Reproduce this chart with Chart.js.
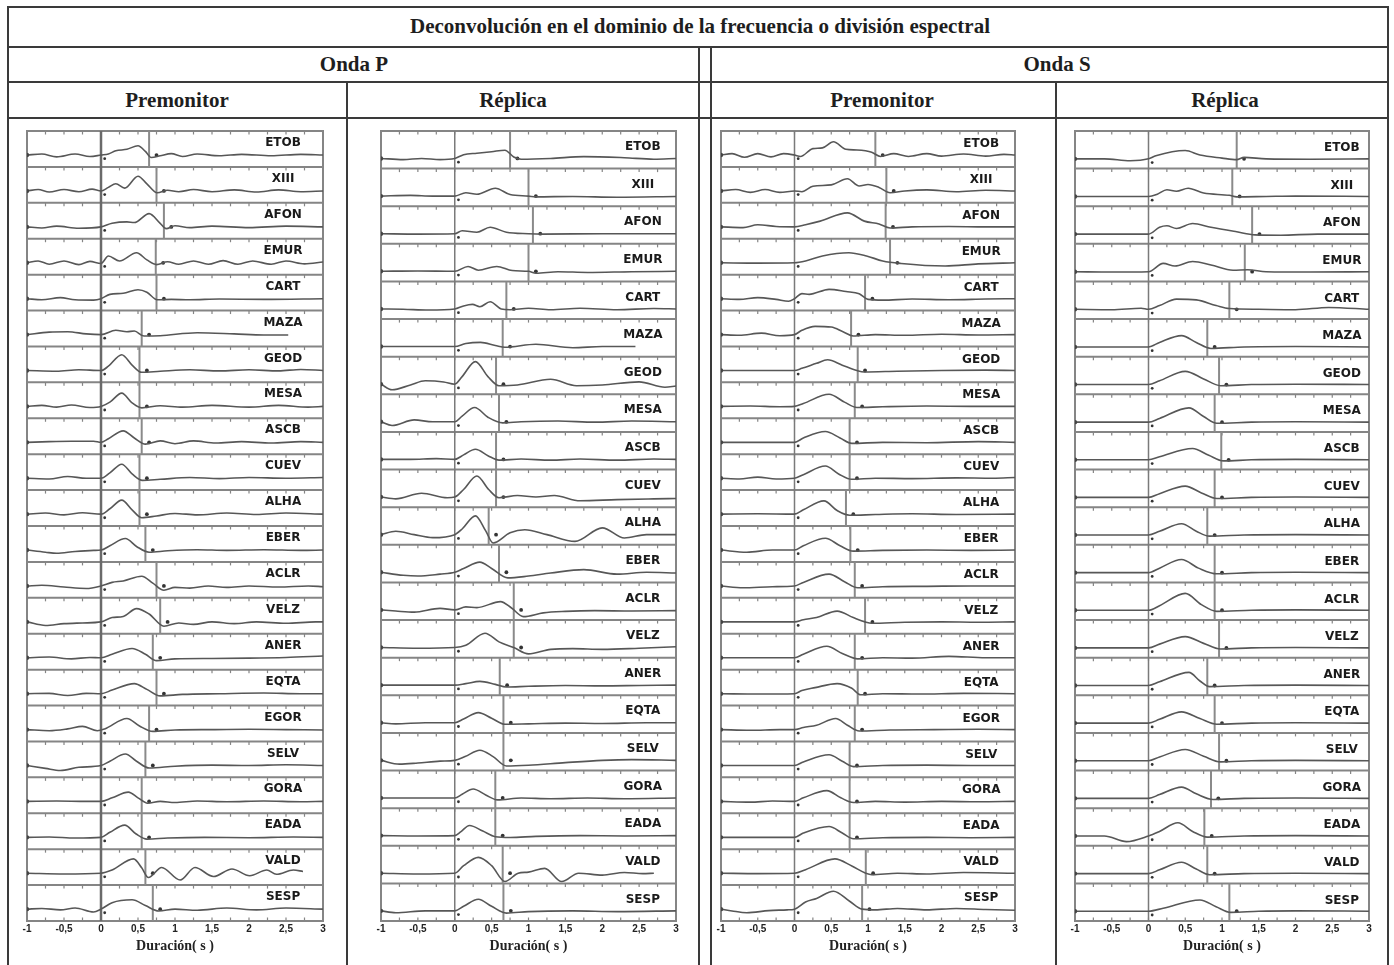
<!DOCTYPE html>
<html>
<head>
<meta charset="utf-8">
<script src="https://cdn.jsdelivr.net/npm/chart.js@4"></script>
<style>
    body { margin: 0; background: #fff; width: 1394px; height: 965px; overflow: hidden; position: relative; }
    .h, .v { position: absolute; background: #3a3a3a; }
    .h { height: 2px; }
    .v { width: 2px; }
    .t { position: absolute; transform: translate(-50%, -50%); font: bold 21px "Liberation Serif", serif; color: #1e1e1e; white-space: nowrap; }
    canvas { position: absolute; top: 119px; }
</style>
</head>
<body>
<div class="h" style="left:8px;top:6px;width:1381px"></div>
<div class="h" style="left:8px;top:46px;width:1381px"></div>
<div class="h" style="left:8px;top:81px;width:1381px"></div>
<div class="h" style="left:8px;top:117px;width:1381px"></div>
<div class="v" style="left:7px;top:6px;height:960px"></div>
<div class="v" style="left:1387px;top:6px;height:960px"></div>
<div class="v" style="left:698px;top:46px;height:920px"></div>
<div class="v" style="left:710px;top:46px;height:920px"></div>
<div class="v" style="left:346px;top:81px;height:885px"></div>
<div class="v" style="left:1055px;top:81px;height:885px"></div>

<div class="t" style="left:700px;top:26px">Deconvolución en el dominio de la frecuencia o división espectral</div>
<div class="t" style="left:354px;top:64px">Onda P</div>
<div class="t" style="left:1057px;top:64px">Onda S</div>
<div class="t" style="left:177px;top:100px">Premonitor</div>
<div class="t" style="left:513px;top:100px">Réplica</div>
<div class="t" style="left:882px;top:100px">Premonitor</div>
<div class="t" style="left:1225px;top:100px">Réplica</div>

<canvas id="pPrem" width="336" height="846" style="left:10px"></canvas>
<canvas id="pRep" width="349" height="846" style="left:349px"></canvas>
<canvas id="sPrem" width="343" height="846" style="left:712px"></canvas>
<canvas id="sRep" width="330" height="846" style="left:1057px"></canvas>

<script>
// Tick labels of the time axis (s)
const xTickLabels = ["-1", "-0,5", "0", "0,5", "1", "1,5", "2", "2,5", "3"];

// Stations, top to bottom
const stationsPrem = ["ETOB", "XIII", "AFON", "EMUR", "CART", "MAZA", "GEOD", "MESA", "ASCB", "CUEV", "ALHA",
    "EBER", "ACLR", "VELZ", "ANER", "EQTA", "EGOR", "SELV", "GORA", "EADA", "VALD", "SESP"];
const stationsRep = ["ETOB", "XIII", "AFON", "EMUR", "CART", "MAZA", "GEOD", "MESA", "ASCB", "CUEV", "ALHA",
    "EBER", "ACLR", "VELZ", "ANER", "EQTA", "SELV", "GORA", "EADA", "VALD", "SESP"];

// Pulse end times (s)
const pPremEnd = [0.65, 0.75, 0.85, 0.74, 0.75, 0.55, 0.52, 0.52, 0.55, 0.52, 0.52, 0.6, 0.75, 0.8, 0.7, 0.75, 0.65, 0.6, 0.55, 0.55, 0.6, 0.7];
const pRepEnd = [0.75, 1.0, 1.06, 1.0, 0.7, 0.65, 0.56, 0.6, 0.56, 0.56, 0.46, 0.6, 0.8, 0.8, 0.61, 0.66, 0.66, 0.55, 0.55, 0.65, 0.66];
const sPremEnd = [1.1, 1.25, 1.24, 1.3, 0.96, 0.77, 0.86, 0.82, 0.75, 0.75, 0.7, 0.76, 0.82, 0.96, 0.82, 0.86, 0.82, 0.75, 0.75, 0.75, 0.97, 0.92];
const sRepEnd = [1.2, 1.14, 1.41, 1.31, 1.1, 0.8, 0.96, 0.9, 0.99, 0.9, 0.8, 0.9, 0.9, 0.96, 0.8, 0.9, 0.96, 0.85, 0.76, 0.8, 1.1];

// Traces: [time (s), amplitude (fraction of row height)]
const pPremWaves = [
    [[-1,0],[-0.8,0.03],[-0.6,-0.05],[-0.35,0.03],[-0.15,-0.04],[0,0],[0.1,0.03],[0.2,0.12],[0.35,0.16],[0.5,0.26],[0.6,0.1],[0.68,-0.07],[0.8,-0.02],[0.95,0.04],[1.1,-0.04],[1.3,0.03],[1.6,-0.02],[1.9,0.02],[2.3,-0.02],[2.7,0.02],[3,0]],
    [[-1,0],[-0.85,0.04],[-0.7,-0.03],[-0.5,0.04],[-0.3,-0.02],[-0.12,0.05],[0,0],[0.1,0.1],[0.2,0.2],[0.32,0.08],[0.5,0.41],[0.62,0.2],[0.76,-0.05],[0.9,0.02],[1.05,-0.02],[1.25,0.04],[1.5,-0.02],[1.8,0.03],[2.1,-0.03],[2.4,0.03],[2.7,-0.02],[3,0]],
    [[-1,0],[-0.8,-0.03],[-0.6,0.02],[-0.3,-0.04],[0,0],[0.15,0.1],[0.35,0.14],[0.45,0.12],[0.65,0.37],[0.8,0.1],[0.88,-0.05],[1,0.03],[1.2,-0.02],[1.5,0.02],[2,-0.02],[2.5,0.02],[3,0]],
    [[-1,0],[-0.85,0.05],[-0.7,-0.04],[-0.5,0.05],[-0.3,-0.05],[-0.15,0.04],[0,-0.02],[0.1,0.19],[0.25,0.05],[0.48,0.28],[0.62,0.08],[0.75,-0.05],[0.9,0.03],[1.05,-0.04],[1.25,0.05],[1.45,-0.04],[1.65,0.06],[1.85,-0.04],[2.05,0.05],[2.3,-0.04],[2.5,0.05],[2.75,-0.03],[3,0.02]],
    [[-1,0],[-0.8,-0.03],[-0.55,0.03],[-0.35,-0.03],[-0.1,-0.04],[0,0],[0.12,0.12],[0.3,0.15],[0.5,0.25],[0.62,0.18],[0.76,-0.03],[0.95,-0.02],[1.2,-0.03],[1.6,-0.01],[2.2,-0.02],[3,0]],
    [[-1,0],[-0.7,0.07],[-0.45,0.08],[-0.2,0.02],[0,0],[0.2,0.12],[0.35,0.08],[0.45,0.1],[0.58,-0.04],[0.8,-0.03],[1.3,0.05],[1.8,0.02],[2.2,-0.01],[2.53,-0.01]],
    [[-1,0],[-0.6,-0.02],[-0.3,0.02],[0,0],[0.1,0.12],[0.28,0.44],[0.42,0.15],[0.55,-0.05],[0.8,-0.02],[1.2,0.02],[1.6,-0.01],[2,0.02],[2.4,-0.01],[2.7,0.03],[3,0]],
    [[-1,0],[-0.8,0.03],[-0.6,-0.02],[-0.4,0.04],[-0.15,-0.03],[0,0],[0.12,0.12],[0.28,0.37],[0.42,0.1],[0.55,-0.04],[0.8,0.02],[1.1,-0.02],[1.5,0.03],[2,-0.02],[2.4,0.03],[2.8,-0.02],[3,0]],
    [[-1,0],[-0.7,0.02],[-0.4,0.03],[-0.1,0.03],[0,0],[0.1,0.1],[0.3,0.32],[0.45,0.12],[0.6,-0.05],[0.8,0.04],[1,-0.04],[1.25,0.04],[1.55,-0.02],[1.9,0.02],[2.3,-0.02],[2.7,0.02],[3,0]],
    [[-1,0],[-0.7,-0.02],[-0.45,0.05],[-0.2,0],[0,0],[0.12,0.15],[0.28,0.39],[0.42,0.12],[0.56,-0.06],[0.8,-0.03],[1.2,0.02],[1.6,-0.01],[2,0.02],[2.5,0],[3,0.02]],
    [[-1,0],[-0.75,0.03],[-0.5,-0.02],[-0.25,0.04],[0,0],[0.12,0.15],[0.28,0.39],[0.42,0.12],[0.55,-0.1],[0.75,-0.05],[1,0.02],[1.3,-0.02],[1.7,0.03],[2.1,-0.01],[2.5,0.03],[3,0]],
    [[-1,0],[-0.75,-0.06],[-0.6,-0.09],[-0.35,-0.04],[-0.1,-0.01],[0,0],[0.12,0.12],[0.33,0.32],[0.48,0.1],[0.65,-0.06],[0.9,-0.02],[1.3,0.01],[1.7,-0.01],[2.2,0.01],[2.7,-0.01],[3,0]],
    [[-1,0],[-0.8,0.02],[-0.5,-0.03],[-0.2,-0.07],[0,0],[0.15,0.1],[0.3,0.14],[0.55,0.27],[0.7,0.08],[0.85,-0.12],[1,-0.04],[1.2,-0.06],[1.45,0],[1.7,-0.04],[2,0],[2.4,-0.03],[2.8,0],[3,-0.02]],
    [[-1,0],[-0.75,-0.1],[-0.5,-0.05],[-0.25,-0.03],[0,0],[0.15,0.12],[0.3,0.15],[0.48,0.37],[0.65,0.22],[0.85,-0.12],[1.05,-0.03],[1.25,-0.07],[1.5,0],[1.8,-0.05],[2.1,0],[2.5,-0.04],[2.9,0],[3,0]],
    [[-1,0],[-0.7,0.02],[-0.4,-0.03],[-0.15,0.01],[0,0],[0.15,0.1],[0.42,0.26],[0.6,0.1],[0.75,-0.08],[1,-0.03],[1.5,-0.02],[2,-0.01],[2.5,0.01],[3,0.05]],
    [[-1,0],[-0.7,0.01],[-0.45,-0.05],[-0.2,0.01],[0,0],[0.15,0.1],[0.45,0.28],[0.62,0.12],[0.8,-0.06],[1.1,-0.02],[1.6,0],[2.2,0.02],[2.7,0],[3,0]],
    [[-1,0],[-0.7,-0.03],[-0.45,0.02],[-0.25,0.09],[-0.05,-0.03],[0.05,0.02],[0.35,0.31],[0.52,0.1],[0.7,-0.05],[1,-0.01],[1.5,0],[2,0.01],[2.5,0],[3,-0.01]],
    [[-1,0],[-0.75,-0.08],[-0.55,-0.14],[-0.3,-0.05],[0,0],[0.12,0.12],[0.33,0.32],[0.48,0.12],[0.65,-0.07],[1,-0.02],[1.5,0.01],[2,0],[2.5,0.02],[3,0]],
    [[-1,0],[-0.6,0.01],[-0.2,0],[0,0],[0.15,0.1],[0.37,0.26],[0.5,0.1],[0.63,-0.05],[0.8,0],[1,-0.03],[1.3,0.01],[1.7,-0.01],[2.2,0.01],[2.7,-0.01],[3,0]],
    [[-1,0],[-0.7,0.01],[-0.35,-0.02],[0,0],[0.12,0.14],[0.32,0.34],[0.47,0.1],[0.62,-0.05],[0.9,-0.02],[1.4,0],[2,-0.01],[2.6,0.01],[3,0]],
    [[-1,0],[-0.5,-0.02],[0,0],[0.15,0.09],[0.44,0.4],[0.55,0.15],[0.64,-0.12],[0.82,0.16],[1.07,-0.19],[1.27,0.16],[1.52,-0.09],[1.77,0.12],[2.01,-0.07],[2.24,0.09],[2.37,-0.03],[2.6,0.09],[2.73,0.05]],
    [[-1,0],[-0.8,0.02],[-0.55,-0.02],[-0.35,0.03],[-0.1,-0.08],[0,0],[0.15,0.18],[0.42,0.26],[0.6,0.1],[0.78,-0.05],[1,0],[1.3,-0.03],[1.7,0.03],[2.1,-0.02],[2.5,0.03],[3,0]]
];

const pRepWaves = [
    [[-1,0],[-0.7,-0.03],[-0.45,0],[-0.2,-0.03],[0,0],[0.12,0.1],[0.3,0.14],[0.5,0.18],[0.68,0.22],[0.8,0.04],[0.9,-0.02],[1.3,0],[1.75,0.05],[2.3,0.02],[2.7,-0.02],[3,0]],
    [[-1,0],[-0.6,0.02],[-0.3,0],[0,0],[0.15,0.09],[0.3,0.05],[0.55,0.21],[0.75,0.04],[1,0],[1.1,-0.02],[1.6,-0.01],[2.2,-0.03],[3,-0.01]],
    [[-1,0],[-0.5,-0.01],[0,0],[0.1,0.08],[0.3,0.04],[0.48,0.17],[0.7,0.04],[1,0],[1.2,-0.01],[2,0],[3,0]],
    [[-1,0],[-0.5,0.01],[0,0],[0.18,0.13],[0.32,0.03],[0.57,0.13],[0.78,0.02],[1,0],[1.1,-0.05],[1.4,-0.01],[1.8,-0.03],[2.4,-0.01],[3,0]],
    [[-1,0],[-0.7,-0.01],[-0.35,-0.03],[0,0],[0.12,0.08],[0.24,0.12],[0.34,0.06],[0.48,0.19],[0.63,0],[0.75,-0.02],[1,0.02],[1.3,-0.02],[1.7,0.02],[2.2,-0.02],[2.7,0.01],[3,0]],
    [[-1,0],[-0.5,0],[0,0],[0.15,0.08],[0.35,0.11],[0.55,0.03],[0.68,-0.02],[1.1,0.06],[1.6,-0.03],[2,0],[2.45,0]],
    [[-1,0],[-0.85,-0.15],[-0.6,-0.02],[-0.4,0.09],[-0.15,0.06],[0,0],[0.1,0.2],[0.28,0.6],[0.45,0.2],[0.6,-0.04],[0.85,-0.02],[1.3,0.13],[1.65,-0.04],[2,-0.02],[2.5,0.06],[2.85,-0.08],[3,-0.05]],
    [[-1,0],[-0.85,-0.1],[-0.55,0.05],[-0.3,0],[0,0],[0.1,0.15],[0.27,0.38],[0.45,0.12],[0.65,-0.03],[0.9,0],[1.4,0.02],[1.9,-0.01],[2.4,0.02],[3,0]],
    [[-1,0],[-0.6,0],[-0.25,0.02],[0,0],[0.12,0.12],[0.28,0.27],[0.45,0.1],[0.6,-0.02],[0.9,0.01],[1.3,-0.02],[1.7,0.01],[2.2,-0.02],[2.7,0.01],[3,0]],
    [[-1,0],[-0.8,-0.05],[-0.45,0.1],[-0.1,-0.02],[0,0],[0.12,0.2],[0.3,0.56],[0.46,0.2],[0.6,-0.02],[0.85,0.04],[1.1,0],[1.35,0.04],[1.7,-0.1],[2.2,-0.07],[2.7,-0.05],[3,-0.04]],
    [[-1,0],[-0.8,0.09],[-0.55,0],[-0.3,-0.08],[0,0],[0.1,0.15],[0.28,0.5],[0.42,0.1],[0.52,-0.22],[0.75,0.05],[0.95,0.13],[1.25,0],[1.63,-0.18],[2,0.18],[2.3,-0.09],[2.6,0],[3,0]],
    [[-1,0],[-0.7,-0.08],[-0.5,-0.1],[-0.2,-0.05],[0,0],[0.12,0.1],[0.34,0.27],[0.5,0.1],[0.72,-0.15],[1,-0.1],[1.3,-0.02],[1.75,0.07],[2.2,-0.05],[2.6,0],[3,-0.02]],
    [[-1,0],[-0.8,-0.03],[-0.55,-0.06],[-0.2,0.04],[0,0],[0.15,0.08],[0.3,0.06],[0.62,0.22],[0.77,0.05],[0.93,-0.18],[1.2,-0.08],[1.5,-0.04],[1.9,-0.02],[2.4,-0.03],[3,-0.02]],
    [[-1,0],[-0.5,-0.02],[0,0],[0.15,0.06],[0.41,0.38],[0.6,0.15],[0.8,0],[1,-0.17],[1.3,-0.05],[1.6,-0.03],[2,-0.05],[2.5,-0.02],[3,0.02]],
    [[-1,0],[-0.5,0],[0,0],[0.15,0.04],[0.34,0.1],[0.55,0.02],[0.7,-0.05],[1,-0.03],[1.5,-0.01],[2,-0.02],[2.5,-0.01],[3,0]],
    [[-1,0],[-0.8,-0.03],[-0.4,0],[0,0],[0.12,0.1],[0.32,0.27],[0.5,0.12],[0.68,-0.04],[1,-0.03],[1.5,-0.01],[2,-0.02],[2.6,0],[3,0]],
    [[-1,0],[-0.75,-0.1],[-0.5,-0.07],[-0.2,-0.02],[0,0],[0.14,0.1],[0.34,0.27],[0.52,0.1],[0.7,-0.15],[1,-0.13],[1.5,-0.06],[2,0],[2.4,0.02],[3,0]],
    [[-1,0],[-0.5,0],[0,0],[0.1,0.1],[0.25,0.24],[0.42,0.08],[0.58,-0.05],[0.9,0],[1.3,-0.02],[1.8,0],[2.3,-0.02],[3,0]],
    [[-1,0],[-0.5,-0.01],[0,0],[0.08,0.1],[0.2,0.27],[0.38,0.12],[0.55,-0.03],[0.75,-0.05],[1.1,-0.02],[1.7,0],[2.3,-0.01],[3,0]],
    [[-1,0],[-0.5,-0.02],[0,0],[0.12,0.2],[0.32,0.42],[0.5,0.2],[0.68,-0.22],[0.86,0],[1,0.03],[1.22,0.13],[1.45,-0.22],[1.68,0],[2,-0.05],[2.3,0.02],[2.55,-0.01],[2.7,0]],
    [[-1,0],[-0.8,-0.05],[-0.4,0],[0,0],[0.12,0.12],[0.32,0.31],[0.5,0.12],[0.7,-0.06],[1,-0.02],[1.6,0],[2.2,-0.02],[3,0]]
];

const sPremWaves = [
    [[-1,0],[-0.85,0.04],[-0.68,-0.06],[-0.5,0.04],[-0.32,-0.05],[-0.15,0.04],[0,0],[0.08,-0.04],[0.25,0.18],[0.38,0.2],[0.53,0.37],[0.7,0.16],[0.85,0.14],[1.05,0.08],[1.17,-0.04],[1.35,0.04],[1.55,-0.04],[1.8,0.04],[2,-0.03],[2.3,0.03],[2.6,-0.03],[2.85,0.02],[3,0]],
    [[-1,0],[-0.8,0.04],[-0.6,-0.04],[-0.4,0.04],[-0.2,-0.04],[0,0],[0.1,-0.02],[0.25,0.13],[0.5,0.17],[0.72,0.34],[0.88,0.14],[1,0.18],[1.15,0.1],[1.3,-0.05],[1.5,0],[1.8,0.03],[2.2,-0.02],[2.6,0.02],[3,0]],
    [[-1,0],[-0.7,-0.02],[-0.5,0.06],[-0.25,0.01],[0,0],[0.15,0.06],[0.35,0.16],[0.72,0.39],[0.95,0.16],[1.15,0.08],[1.3,-0.03],[1.6,0],[2.1,0.01],[2.6,0],[3,0]],
    [[-1,0],[-0.5,-0.01],[0,0],[0.15,0.05],[0.38,0.19],[0.74,0.28],[0.98,0.19],[1.2,0.05],[1.45,-0.02],[2.05,-0.09],[2.5,-0.03],[3,0]],
    [[-1,0],[-0.75,-0.02],[-0.5,0.03],[-0.25,-0.02],[-0.08,-0.07],[0,0],[0.1,0.14],[0.2,0.12],[0.47,0.26],[0.7,0.2],[0.88,0.14],[1,-0.02],[1.2,-0.04],[1.6,-0.01],[2.1,-0.03],[2.6,-0.01],[3,0]],
    [[-1,0],[-0.75,-0.02],[-0.45,0.04],[-0.2,-0.03],[0,0],[0.1,0.12],[0.28,0.23],[0.5,0.21],[0.66,0.08],[0.8,-0.04],[1.1,0],[1.5,-0.02],[2,0.01],[2.5,-0.01],[3,0]],
    [[-1,0],[-0.5,0],[0,0],[0.1,0.06],[0.3,0.2],[0.45,0.3],[0.65,0.15],[0.85,0],[0.95,-0.04],[1.4,-0.02],[2,0],[2.6,0.01],[3,0]],
    [[-1,0],[-0.6,0.01],[-0.2,-0.01],[0,0],[0.12,0.08],[0.47,0.34],[0.68,0.12],[0.85,-0.03],[1.2,-0.01],[1.8,0.01],[2.4,0],[3,0]],
    [[-1,0],[-0.5,0],[0,0],[0.12,0.12],[0.42,0.3],[0.62,0.12],[0.78,-0.03],[1.2,0],[1.8,-0.01],[2.5,0.02],[3,0]],
    [[-1,0],[-0.75,-0.02],[-0.5,0.03],[-0.25,-0.02],[0,0],[0.12,0.1],[0.42,0.34],[0.6,0.12],[0.78,-0.03],[1.1,0],[1.6,-0.01],[2.2,0.01],[2.7,0],[3,0.02]],
    [[-1,0],[-0.5,0.01],[0,0],[0.12,0.12],[0.4,0.37],[0.58,0.1],[0.75,-0.03],[1.1,-0.01],[1.6,0.01],[2.2,-0.01],[3,0]],
    [[-1,0],[-0.65,-0.06],[-0.3,0],[0,0],[0.12,0.12],[0.42,0.33],[0.62,0.12],[0.8,-0.03],[1.2,-0.01],[1.8,0],[2.4,-0.01],[3,0]],
    [[-1,0],[-0.7,-0.05],[-0.3,-0.02],[0,0],[0.12,0.1],[0.47,0.33],[0.68,0.12],[0.86,-0.05],[1.2,-0.02],[1.8,-0.01],[2.4,0],[3,0]],
    [[-1,0],[-0.5,0],[0,0],[0.12,0.06],[0.3,0.12],[0.58,0.3],[0.8,0.12],[0.96,0],[1.05,-0.04],[1.5,-0.01],[2,0],[2.5,-0.01],[3,0]],
    [[-1,0],[-0.5,0],[0,0],[0.12,0.1],[0.44,0.32],[0.65,0.12],[0.86,-0.03],[1.2,0],[1.6,-0.01],[2.1,0.04],[2.6,0],[3,0]],
    [[-1,0],[-0.5,-0.01],[0,0],[0.1,0.09],[0.28,0.17],[0.58,0.28],[0.78,0.15],[0.9,-0.03],[1.2,0],[1.7,-0.01],[2.3,0.01],[3,0]],
    [[-1,0],[-0.6,-0.02],[-0.2,0],[0,0],[0.12,0.06],[0.3,0.12],[0.56,0.31],[0.72,0.12],[0.88,-0.04],[1.3,-0.01],[1.9,0],[2.5,0.01],[3,0]],
    [[-1,0],[-0.5,0],[0,0],[0.12,0.1],[0.47,0.3],[0.65,0.12],[0.8,-0.03],[1.2,0],[1.8,0.01],[2.4,0],[3,0]],
    [[-1,0],[-0.6,-0.02],[-0.3,0.01],[0,0],[0.12,0.1],[0.44,0.3],[0.63,0.1],[0.8,-0.03],[1.1,0],[1.5,-0.02],[2,0],[2.5,-0.01],[3,0]],
    [[-1,0],[-0.5,0],[0,0],[0.12,0.12],[0.47,0.3],[0.65,0.12],[0.8,-0.04],[1.2,-0.01],[1.8,0],[2.4,-0.01],[3,0]],
    [[-1,0],[-0.5,-0.01],[0,0],[0.15,0.1],[0.55,0.4],[0.78,0.2],[0.97,0],[1.05,-0.04],[1.4,0],[1.8,-0.02],[2.3,0.02],[3,0]],
    [[-1,0],[-0.85,-0.05],[-0.65,-0.1],[-0.35,-0.04],[-0.1,-0.02],[0,0],[0.15,0.2],[0.3,0.3],[0.53,0.5],[0.75,0.22],[0.92,0],[1.1,-0.02],[1.4,0.02],[1.8,-0.02],[2.2,0.02],[2.6,-0.01],[3,-0.03]]
];

const sRepWaves = [
    [[-1,0],[-0.6,0],[-0.25,-0.05],[0,0],[0.1,0.08],[0.5,0.22],[0.7,0.1],[1,0.02],[1.2,-0.02],[1.3,0.04],[1.6,0],[2.2,-0.01],[3,0]],
    [[-1,0],[-0.5,0],[0,0],[0.12,0.06],[0.25,0.18],[0.38,0.14],[0.54,0.22],[0.75,0.09],[1.1,0.03],[1.2,-0.01],[1.6,0],[2,0.01],[3,0]],
    [[-1,0],[-0.5,0],[0,0],[0.15,0.18],[0.25,0.22],[0.38,0.15],[0.6,0.28],[0.85,0.18],[1.2,0.06],[1.45,-0.02],[1.8,-0.03],[2.3,0],[3,0]],
    [[-1,0],[-0.5,-0.01],[0,0],[0.2,0.22],[0.36,0.15],[0.6,0.27],[0.85,0.18],[1.15,0.04],[1.35,0.05],[1.6,0],[2.2,-0.01],[3,0]],
    [[-1,0],[-0.5,-0.01],[-0.1,0.03],[0,0],[0.15,0.1],[0.38,0.27],[0.65,0.25],[0.92,0.1],[1.1,0.02],[1.5,0],[2,-0.01],[2.45,0.05],[3,0]],
    [[-1,0],[-0.5,0],[0,0],[0.15,0.12],[0.45,0.3],[0.65,0.12],[0.85,-0.04],[1.3,0],[2,0.01],[3,0]],
    [[-1,0],[-0.5,0],[0,0],[0.15,0.1],[0.5,0.35],[0.75,0.15],[0.98,-0.03],[1.4,0],[2,0.01],[3,0]],
    [[-1,0],[-0.5,0],[0,0],[0.15,0.1],[0.55,0.38],[0.75,0.15],[0.93,-0.03],[1.4,0],[2,0.01],[3,0]],
    [[-1,0],[-0.5,0],[0,0],[0.15,0.08],[0.6,0.3],[0.82,0.12],[1.02,-0.03],[1.4,0],[2,0.01],[3,0]],
    [[-1,0],[-0.5,0],[0,0],[0.15,0.1],[0.5,0.3],[0.72,0.12],[0.93,-0.03],[1.4,0],[2,0.01],[3,0]],
    [[-1,0],[-0.5,0],[0,0],[0.15,0.1],[0.45,0.3],[0.65,0.1],[0.83,-0.03],[1.3,0],[2,0.01],[3,0]],
    [[-1,0],[-0.5,0],[0,0],[0.15,0.12],[0.45,0.35],[0.68,0.12],[0.93,-0.03],[1.4,0],[2,0.01],[3,0]],
    [[-1,0],[-0.5,0],[0,0],[0.15,0.12],[0.5,0.45],[0.72,0.15],[0.93,-0.03],[1.4,0],[2,0.01],[3,0]],
    [[-1,0],[-0.5,0],[0,0],[0.15,0.1],[0.5,0.3],[0.75,0.12],[0.98,-0.03],[1.4,0],[2,0.01],[3,0]],
    [[-1,0],[-0.5,0],[0,0],[0.15,0.1],[0.55,0.35],[0.7,0.12],[0.83,-0.03],[1.3,0],[2,0.01],[3,0]],
    [[-1,0],[-0.5,0],[0,0],[0.15,0.1],[0.45,0.3],[0.7,0.12],[0.93,-0.03],[1.4,0],[2,0.01],[3,0]],
    [[-1,0],[-0.5,0],[0,0],[0.15,0.1],[0.5,0.3],[0.75,0.12],[0.98,-0.03],[1.4,0],[2,0.01],[3,0]],
    [[-1,0],[-0.5,0],[0,0],[0.15,0.1],[0.45,0.3],[0.65,0.12],[0.88,-0.03],[1.3,0],[2,0.01],[3,0]],
    [[-1,0],[-0.6,0],[-0.3,-0.15],[0,0],[0.15,0.12],[0.4,0.35],[0.6,0.12],[0.8,-0.03],[1.3,0],[2,0.01],[3,0]],
    [[-1,0],[-0.5,0],[0,0],[0.15,0.1],[0.45,0.3],[0.65,0.12],[0.83,-0.03],[1.3,0],[2,0.01],[3,0]],
    [[-1,0],[-0.5,0],[0,0],[0.2,0.08],[0.7,0.3],[0.92,0.12],[1.12,-0.03],[1.5,0],[2,0.01],[3,0]]
];

// Draw the row boxes, tick marks, zero line, pulse end lines and station names
const frame = {
    id: "frame",
    beforeDatasetsDraw(chart, args, o) {
        const { ctx, chartArea: a, scales: { x, y } } = chart;
        const n = o.stations.length;
        const line = (x1, y1, x2, y2) => { ctx.beginPath(); ctx.moveTo(x1, y1); ctx.lineTo(x2, y2); ctx.stroke(); };
        ctx.save();
        ctx.strokeStyle = "#858585";
        ctx.lineWidth = 2;
        ctx.strokeRect(a.left, a.top, a.right - a.left, a.bottom - a.top);
        for (let i = 1; i < n; i++) line(a.left, y.getPixelForValue(i), a.right, y.getPixelForValue(i));

        // Small ticks every 0.25 s along each row top and the bottom edge
        ctx.lineWidth = 1.2;
        for (let t = -0.75; t < 3; t += 0.25) {
            const px = x.getPixelForValue(t);
            for (let i = 1; i <= n; i++) line(px, y.getPixelForValue(i), px, y.getPixelForValue(i) + 3.5);
            line(px, a.bottom, px, a.bottom - 3.5);
        }

        // Origin line
        ctx.strokeStyle = o.zeroColor;
        ctx.lineWidth = o.zeroWidth;
        line(x.getPixelForValue(0), a.top, x.getPixelForValue(0), a.bottom);

        // End of pulse per station
        ctx.strokeStyle = "#8a8a8a";
        ctx.lineWidth = 2;
        o.ends.forEach((t, i) => {
            const px = x.getPixelForValue(t);
            line(px, y.getPixelForValue(n - i), px, y.getPixelForValue(n - i - 1));
        });
        ctx.restore();
    },
    afterDatasetsDraw(chart, args, o) {
        const { ctx, scales: { x, y } } = chart;
        const n = o.stations.length;
        ctx.save();
        ctx.font = "bold 12px 'DejaVu Sans'";
        ctx.fillStyle = "#1a1a1a";
        ctx.textAlign = "center";
        ctx.textBaseline = "middle";
        o.stations.forEach((s, i) => ctx.fillText(s, x.getPixelForValue(o.labelT), y.getPixelForValue(n - i) + o.labelDy));
        ctx.restore();
    }
};

const makePanel = (id, stations, ends, waves, cfg) => {
    const n = stations.length;
    const base = i => n - i - cfg.baseFrac;
    const datasets = waves.map((w, i) => ({
        data: w.map(([t, v]) => ({ x: t, y: base(i) + v })),
        showLine: true,
        borderColor: "#575757",
        borderWidth: 1.6,
        tension: 0.4,
        cubicInterpolationMode: "monotone",
        pointRadius: c => c.dataIndex === 0 ? 2.2 : 0,
        pointBackgroundColor: "#444",
        pointBorderWidth: 0
    }));
    datasets.push({
        data: ends.map((t, i) => ({ x: 0.05, y: base(i) - 0.1 })),
        pointRadius: 1.4, pointBackgroundColor: "#333", pointBorderWidth: 0
    });
    datasets.push({
        data: ends.map((t, i) => ({ x: t + 0.1, y: base(i) })),
        pointRadius: 1.9, pointBackgroundColor: "#333", pointBorderWidth: 0
    });

    new Chart(document.getElementById(id), {
        type: "scatter",
        data: { datasets },
        options: {
            responsive: false,
            animation: false,
            layout: { padding: { left: cfg.padL, right: cfg.padR, top: 12, bottom: 0 } },
            scales: {
                x: {
                    type: "linear", min: -1, max: 3,
                    afterFit: s => { s.height = 44; },
                    afterBuildTicks: s => { s.ticks = xTickLabels.map((l, i) => ({ value: -1 + i * 0.5 })); },
                    grid: { display: false, drawTicks: false },
                    border: { display: false },
                    ticks: {
                        autoSkip: false, maxRotation: 0, padding: 2, color: "#222",
                        font: { family: "Liberation Sans", weight: "bold", size: 10 },
                        callback: (v, i) => xTickLabels[i]
                    },
                    title: {
                        display: true, text: "Duración( s )", color: "#222",
                        font: { family: "Liberation Serif", weight: "bold", size: 14 },
                        padding: { top: 0, bottom: 10 }
                    }
                },
                y: { min: 0, max: n, display: false }
            },
            plugins: {
                legend: { display: false },
                tooltip: { enabled: false },
                frame: { stations, ends, labelT: cfg.labelT, labelDy: cfg.labelDy, zeroWidth: cfg.zeroWidth, zeroColor: cfg.zeroColor }
            }
        },
        plugins: [frame]
    });
};

makePanel("pPrem", stationsPrem, pPremEnd, pPremWaves, { padL: 17, padR: 23, baseFrac: 0.67, labelT: 2.46, labelDy: 12, zeroWidth: 2.5, zeroColor: "#6a6a6a" });
makePanel("pRep", stationsRep, pRepEnd, pRepWaves, { padL: 32, padR: 22, baseFrac: 0.73, labelT: 2.55, labelDy: 16, zeroWidth: 1.5, zeroColor: "#7a7a7a" });
makePanel("sPrem", stationsPrem, sPremEnd, sPremWaves, { padL: 9, padR: 40, baseFrac: 0.67, labelT: 2.54, labelDy: 13, zeroWidth: 1.5, zeroColor: "#7a7a7a" });
makePanel("sRep", stationsRep, sRepEnd, sRepWaves, { padL: 18, padR: 18, baseFrac: 0.74, labelT: 2.63, labelDy: 17, zeroWidth: 1.5, zeroColor: "#7a7a7a" });
</script>
</body>
</html>
